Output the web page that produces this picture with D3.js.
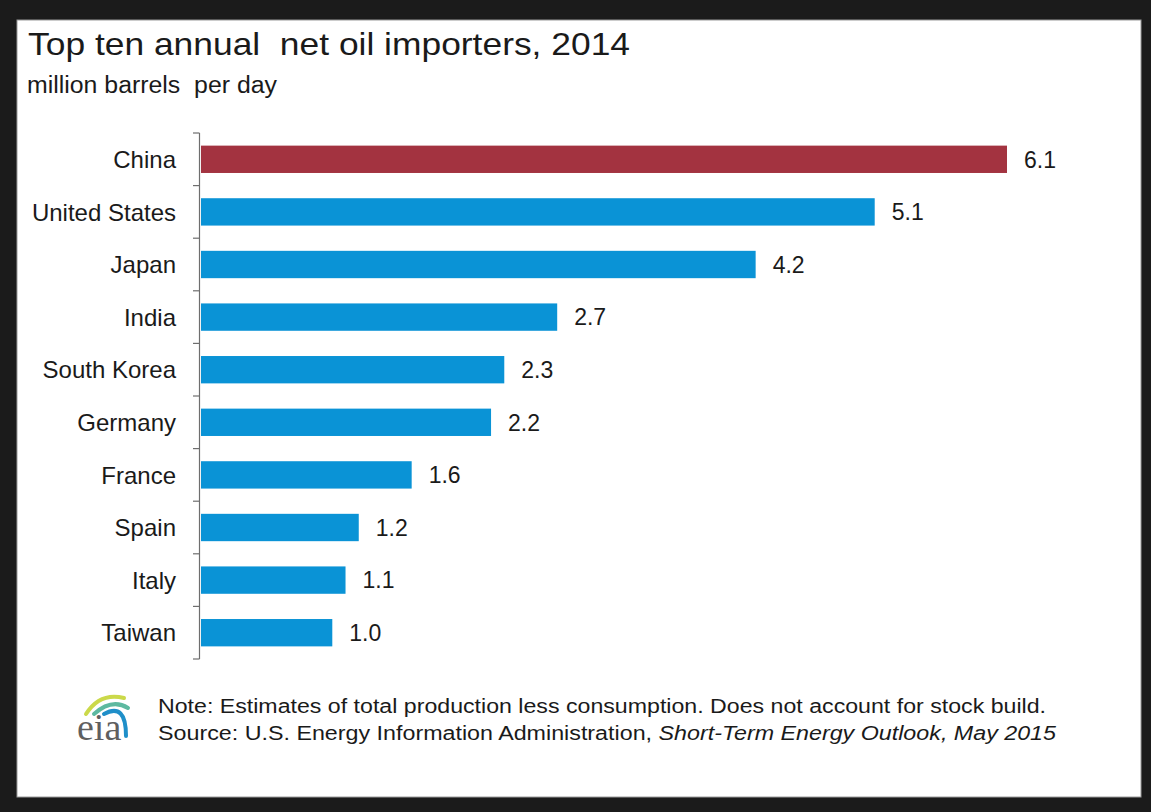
<!DOCTYPE html>
<html>
<head>
<meta charset="utf-8">
<script src="https://cdn.jsdelivr.net/npm/d3@7"></script>
<style>
  html, body { margin: 0; padding: 0; background: #1b1b1b; }
  svg { display: block; }
  text { white-space: pre; }
</style>
</head>
<body>
<svg id="chart" width="1151" height="812"></svg>
<script>
const categories = ["China", "United States", "Japan", "India", "South Korea", "Germany", "France", "Spain", "Italy", "Taiwan"];
const values = [6.1, 5.1, 4.2, 2.7, 2.3, 2.2, 1.6, 1.2, 1.1, 1.0];
const highlight = ["China"];
const titleText = "Top ten annual  net oil importers, 2014";
const subtitleText = "million barrels  per day";
const noteText = "Note: Estimates of total production less consumption. Does not account for stock build.";
const sourcePlain = "Source: U.S. Energy Information Administration, ";
const sourceItalic = "Short-Term Energy Outlook, May 2015";

const SANS = "Arial, 'Liberation Sans', sans-serif";
const SERIF = "'Liberation Serif', 'DejaVu Serif', serif";

const svg = d3.select("#chart");

// frame
svg.append("rect").attr("x", 0).attr("y", 0).attr("width", 1151).attr("height", 812).attr("fill", "#1b1b1b");
svg.append("rect").attr("x", 17).attr("y", 20).attr("width", 1124).attr("height", 777)
  .attr("fill", "#ffffff").attr("stroke", "#9a9a9a").attr("stroke-width", 1);

// title
svg.append("text").attr("x", 28).attr("y", 55)
  .style("font-family", SANS).attr("font-size", 32).attr("fill", "#1a1a1a")
  .attr("textLength", 602).attr("lengthAdjust", "spacingAndGlyphs")
  .text(titleText);
svg.append("text").attr("x", 27).attr("y", 93)
  .style("font-family", SANS).attr("font-size", 23).attr("fill", "#1a1a1a")
  .attr("textLength", 250).attr("lengthAdjust", "spacingAndGlyphs")
  .text(subtitleText);

const data = categories.map((c, i) => ({ cat: c, val: values[i] }));

const y = d3.scaleBand().domain(categories).range([133, 659]).paddingInner(0.48).paddingOuter(0.24);
const x = d3.scaleLinear().domain([0, 6.1]).range([200, 1007]);

// bars
svg.append("g").selectAll("rect").data(data).join("rect")
  .attr("x", x(0) + 1)
  .attr("y", d => y(d.cat))
  .attr("width", d => x(d.val) - x(0) - 1)
  .attr("height", y.bandwidth())
  .attr("fill", d => highlight.includes(d.cat) ? "#a33340" : "#0a93d6");

// axis: category labels
const axis = svg.append("g").attr("transform", `translate(${x(0)},0)`)
  .call(d3.axisLeft(y).tickSize(0).tickPadding(24));
axis.select(".domain").remove();
axis.selectAll("text").attr("font-size", 24).attr("fill", "#1a1a1a")
  .style("font-family", SANS).attr("dy", "0.36em");

// axis line and boundary ticks
const step = y.step();
const bounds = categories.map(c => y(c) - step * y.paddingInner() / 2).concat([y.range()[1]]);
svg.append("line").attr("x1", x(0) - 0.5).attr("x2", x(0) - 0.5)
  .attr("y1", y.range()[0]).attr("y2", y.range()[1])
  .attr("stroke", "#6e6e6e").attr("stroke-width", 1.2);
svg.append("g").selectAll("line").data(bounds).join("line")
  .attr("x1", x(0) - 7).attr("x2", x(0) - 0.5)
  .attr("y1", d => d).attr("y2", d => d)
  .attr("stroke", "#6e6e6e").attr("stroke-width", 1.2);

// value labels
svg.append("g").selectAll("text").data(data).join("text")
  .attr("x", d => x(d.val) + 17)
  .attr("y", d => y(d.cat) + y.bandwidth() / 2)
  .attr("dy", "0.36em")
  .style("font-family", SANS).attr("font-size", 23).attr("fill", "#1a1a1a")
  .text(d => d3.format(".1f")(d.val));

// footer notes
svg.append("text").attr("x", 158).attr("y", 713)
  .style("font-family", SANS).attr("font-size", 20).attr("fill", "#1a1a1a")
  .attr("textLength", 888).attr("lengthAdjust", "spacingAndGlyphs")
  .text(noteText);
const src = svg.append("text").attr("x", 158).attr("y", 740)
  .style("font-family", SANS).attr("font-size", 20).attr("fill", "#1a1a1a");
src.append("tspan").text(sourcePlain);
src.append("tspan").attr("font-style", "italic").text(sourceItalic);
src.attr("textLength", 898).attr("lengthAdjust", "spacingAndGlyphs");

// eia logo
const logo = svg.append("g");
logo.append("path").attr("d", "M 86 714 Q 100 692 124 698").attr("fill", "none")
  .attr("stroke", "#cbd94a").attr("stroke-width", 4).attr("stroke-linecap", "round");
logo.append("path").attr("d", "M 94 714 Q 112 698 128 708").attr("fill", "none")
  .attr("stroke", "#5db9a0").attr("stroke-width", 4).attr("stroke-linecap", "round");
logo.append("path").attr("d", "M 104 714 Q 126 702 126 736").attr("fill", "none")
  .attr("stroke", "#1f8fc9").attr("stroke-width", 4).attr("stroke-linecap", "round");
logo.append("text").attr("x", 77).attr("y", 740)
  .style("font-family", SERIF)
  .attr("font-size", 38).attr("fill", "#5f5f5f")
  .text("eia");
</script>
</body>
</html>
